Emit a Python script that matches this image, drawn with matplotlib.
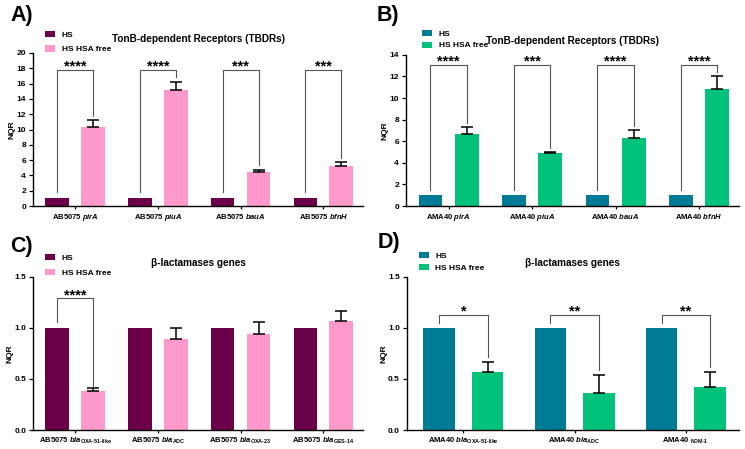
import numpy as np
import matplotlib
matplotlib.use('Agg')
import matplotlib.pyplot as plt

plt.rcParams['font.family'] = ['Liberation Sans', 'DejaVu Sans']
plt.rcParams['font.weight'] = 'bold'
plt.rcParams['mathtext.fontset'] = 'custom'
plt.rcParams['mathtext.rm'] = 'Liberation Sans:bold'
plt.rcParams['mathtext.it'] = 'Liberation Sans:italic:bold'
plt.rcParams['mathtext.bf'] = 'Liberation Sans:bold'

# ---- data ----
a_labels = ['AB5075 $\\mathit{pirA}$', 'AB5075 $\\mathit{piuA}$',
            'AB5075 $\\mathit{bauA}$', 'AB5075 $\\mathit{bfnH}$']
a_hs = [1, 1, 1, 1]
a_free = [10.3, 15.2, 4.5, 5.2]
a_err = [0.9, 1.0, 0.25, 0.5]
a_stars = ['****', '****', '***', '***']

b_labels = ['AMA40 $\\mathit{pirA}$', 'AMA40 $\\mathit{piuA}$',
            'AMA40 $\\mathit{bauA}$', 'AMA40 $\\mathit{bfnH}$']
b_hs = [1, 1, 1, 1]
b_free = [6.7, 4.9, 6.3, 10.8]
b_err = [0.6, 0.1, 0.7, 1.2]
b_stars = ['****', '***', '****', '****']

c_labels = ['AB5075 $\\mathit{bla}_{\\mathrm{OXA‐51‐like}}$',
            'AB5075 $\\mathit{bla}_{\\mathrm{ADC}}$',
            'AB5075 $\\mathit{bla}_{\\mathrm{OXA‐23}}$',
            'AB5075 $\\mathit{bla}_{\\mathrm{GES‐14}}$']
c_hs = [1, 1, 1, 1]
c_free = [0.38, 0.89, 0.94, 1.065]
c_err = [0.03, 0.11, 0.115, 0.105]
c_stars = ['****', None, None, None]

d_labels = ['AMA40 $\\mathit{bla}_{\\mathrm{OXA‐51‐like}}$',
            'AMA40 $\\mathit{bla}_{\\mathrm{ADC}}$',
            'AMA40 $_{\\mathrm{NDM‐1}}$']
d_hs = [1, 1, 1]
d_free = [0.57, 0.36, 0.42]
d_err = [0.1, 0.175, 0.15]
d_stars = ['*', '**', '**']

mag, pink = '#6b0049', '#ff99cc'
teal, green = '#007b95', '#00c27a'

fig = plt.figure(figsize=(7.45, 4.49), dpi=100)


def panel(rect, letter, lpos, title, labels, hs, free, err, stars, c1, c2,
          ymax, ystep, fmt, brk_top, left_bot, gap, leg_xy, leg_sp):
    ax = fig.add_axes(rect)
    n = len(labels)
    x = np.arange(n)
    off, w = 0.217, 0.285
    ax.bar(x - off, hs, w, color=c1, label='HS')
    ax.bar(x + off, free, w, color=c2, label='HS HSA free')
    for xi, v, e in zip(x, free, err):
        ax.errorbar(xi + off, v, yerr=[[0], [e]], fmt='none', ecolor='black',
                    elinewidth=1.1, capsize=4, capthick=1.1)
    for xi, v, e, s in zip(x, free, err, stars):
        if s is None:
            continue
        xl, xr = xi - off, xi + off
        ax.plot([xl, xl, xr], [left_bot, brk_top, brk_top], color='#555555', lw=0.8)
        ax.plot([xr, xr], [brk_top, v + e + gap], color='#555555', lw=0.8)
        ax.annotate(s, (xi, brk_top), xytext=(0, -0.5), textcoords='offset points',
                    ha='center', va='baseline', fontsize=10.5, fontweight='bold')
    ax.set_xlim(-0.51, n - 0.52)
    ax.set_ylim(0, ymax)
    ax.set_yticks(np.arange(0, ymax + ystep / 2, ystep))
    ax.yaxis.set_major_formatter(plt.FormatStrFormatter(fmt))
    ax.set_xticks(x)
    ax.set_xticklabels(labels, fontsize=5.5, fontweight='bold')
    ax.tick_params(axis='y', labelsize=6, length=3, width=0.9, pad=2)
    ax.tick_params(axis='x', length=2.5, width=0.9, pad=1.5)
    for t in ax.get_yticklabels():
        t.set_fontweight('bold')
    ax.spines['top'].set_visible(False)
    ax.spines['right'].set_visible(False)
    ax.spines['left'].set_linewidth(1)
    ax.spines['bottom'].set_linewidth(1)
    ax.set_ylabel('NQR', fontsize=6, fontweight='bold', labelpad=0.5)
    ax.set_title(title, fontsize=7.2, fontweight='bold', pad=8)
    ax.legend(loc='upper left', bbox_to_anchor=leg_xy, frameon=False,
              fontsize=6, handlelength=1.2, handleheight=0.75,
              handletextpad=0.8, labelspacing=leg_sp, borderpad=0,
              borderaxespad=0)
    fig.text(lpos[0], lpos[1], letter, fontsize=15.5, fontweight='bold',
             va='center', ha='left')
    return ax


panel([0.0443, 0.541, 0.443, 0.341], 'A)', (0.014, 0.965),
      'TonB-dependent Receptors (TBDRs)',
      a_labels, a_hs, a_free, a_err, a_stars, mag, pink,
      20, 2, '%d', 17.8, 1.8, 0.6, (0.036, 1.145), 0.8)
panel([0.545, 0.541, 0.447, 0.337], 'B)', (0.505, 0.965),
      'TonB-dependent Receptors (TBDRs)',
      b_labels, b_hs, b_free, b_err, b_stars, teal, green,
      14, 2, '%d', 13.1, 1.5, 0.4, (0.048, 1.165), 0.45)
panel([0.0443, 0.0423, 0.443, 0.341], 'C)', (0.014, 0.452),
      'β-lactamases genes',
      c_labels, c_hs, c_free, c_err, c_stars, mag, pink,
      1.5, 0.5, '%.1f', 1.29, 1.06, 0.015, (0.036, 1.15), 0.8)
panel([0.546, 0.0423, 0.446, 0.341], 'D)', (0.507, 0.461),
      'β-lactamases genes',
      d_labels, d_hs, d_free, d_err, d_stars, teal, green,
      1.5, 0.5, '%.1f', 1.125, 1.05, 0.05, (0.036, 1.163), 0.45)

fig.savefig('out.png', dpi=100)
